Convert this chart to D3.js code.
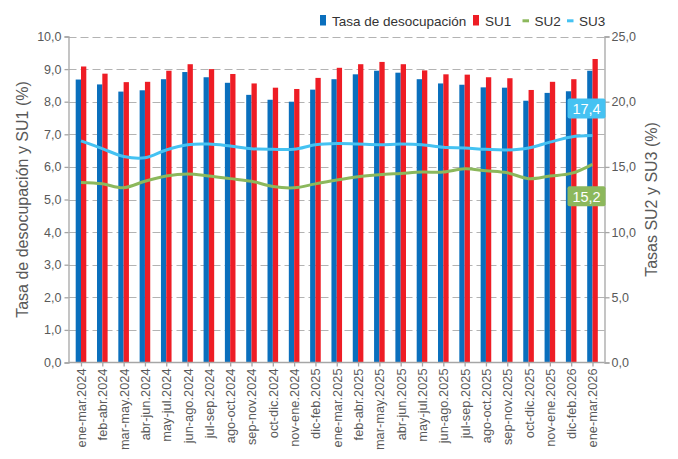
<!DOCTYPE html>
<html>
<head>
<meta charset="utf-8">
<script src="https://cdn.jsdelivr.net/npm/d3@7"></script>
<style>
  body { margin: 0; background: #fff; }
  svg { font-family: "Liberation Sans", Arial, sans-serif; display: block; }
</style>
</head>
<body>
<div id="chart"></div>
<script>
// Datos (trimestres móviles)
const categorias = [
    "ene-mar.2024", "feb-abr.2024", "mar-may.2024", "abr-jun.2024", "may-jul.2024",
    "jun-ago.2024", "jul-sep.2024", "ago-oct.2024", "sep-nov.2024", "oct-dic.2024",
    "nov-ene.2024", "dic-feb.2025", "ene-mar.2025", "feb-abr.2025", "mar-may.2025",
    "abr-jun.2025", "may-jul.2025", "jun-ago.2025", "jul-sep.2025", "ago-oct.2025",
    "sep-nov.2025", "oct-dic.2025", "nov-ene.2025", "dic-feb.2026", "ene-mar.2026"
];
const tasaDesocupacion = [8.68, 8.53, 8.31, 8.35, 8.69, 8.91, 8.75, 8.58, 8.21, 8.06, 8.00, 8.37, 8.69,
    8.84, 8.95, 8.89, 8.69, 8.56, 8.52, 8.44, 8.43, 8.03, 8.27, 8.32, 8.95];
const su1 = [9.08, 8.86, 8.60, 8.61, 8.95, 9.15, 9.00, 8.85, 8.56, 8.43, 8.39, 8.73, 9.04,
    9.15, 9.22, 9.15, 8.96, 8.84, 8.83, 8.75, 8.72, 8.36, 8.61, 8.69, 9.31];
const su2 = [13.8, 13.7, 13.4, 13.9, 14.3, 14.45, 14.3, 14.1, 13.9, 13.5, 13.4, 13.7, 14.0,
    14.25, 14.4, 14.5, 14.6, 14.6, 14.85, 14.7, 14.55, 14.1, 14.3, 14.5, 15.2];
const su3 = [17.0, 16.4, 15.8, 15.7, 16.3, 16.7, 16.75, 16.6, 16.4, 16.35, 16.35, 16.7, 16.8,
    16.75, 16.7, 16.75, 16.7, 16.5, 16.45, 16.35, 16.3, 16.45, 16.9, 17.3, 17.4];
const ticksIzq = [0, 1, 2, 3, 4, 5, 6, 7, 8, 9, 10];
const ticksDer = [0, 5, 10, 15, 20, 25];

const width = 678, height = 459;
const m = { left: 68.5, right: 604.5, top: 36.5, bottom: 362.5 };

const colores = { tasa: "#0a6fbd", su1: "#ee1d25", su2: "#8cb85c", su3: "#45c2f2" };
const gris = "#595959";
const coma = v => d3.format(".1f")(v).replace(".", ",");

const svg = d3.select("#chart").append("svg")
    .attr("width", width).attr("height", height);

const x = d3.scalePoint().domain(categorias).range([81, 592.5]);
const yIzq = d3.scaleLinear().domain([0, 10]).range([m.bottom, m.top]);
const yDer = d3.scaleLinear().domain([0, 25]).range([m.bottom, m.top]);
const barW = 5.3;

// Líneas de grilla
svg.append("g")
    .selectAll("line")
    .data(ticksIzq.filter(d => d > 0))
    .enter().append("line")
    .attr("x1", m.left).attr("x2", m.right)
    .attr("y1", d => Math.round(yIzq(d)) + 0.5).attr("y2", d => Math.round(yIzq(d)) + 0.5)
    .attr("stroke", "#b3b3b3").attr("stroke-width", 1.2)
    .attr("stroke-dasharray", "8,4");

// Barras
const barras = svg.append("g");
barras.selectAll(".tasa")
    .data(tasaDesocupacion)
    .enter().append("rect")
    .attr("x", (d, i) => x(categorias[i]) - barW)
    .attr("y", d => yIzq(d))
    .attr("width", barW)
    .attr("height", d => yIzq(0) - yIzq(d))
    .attr("fill", colores.tasa);
barras.selectAll(".su1")
    .data(su1)
    .enter().append("rect")
    .attr("x", (d, i) => x(categorias[i]))
    .attr("y", d => yIzq(d))
    .attr("width", barW)
    .attr("height", d => yIzq(0) - yIzq(d))
    .attr("fill", colores.su1);

// Ejes
const ejeIzq = svg.append("g")
    .attr("transform", `translate(${m.left},0)`)
    .call(d3.axisLeft(yIzq).tickValues(ticksIzq).tickFormat(coma).tickSize(4).tickPadding(3));
const ejeDer = svg.append("g")
    .attr("transform", `translate(${m.right},0)`)
    .call(d3.axisRight(yDer).tickValues(ticksDer).tickFormat(coma).tickSize(5).tickPadding(2));
const ejeX = svg.append("g")
    .attr("transform", `translate(0,${m.bottom})`)
    .call(d3.axisBottom(x).tickSize(4).tickPadding(4));
ejeX.select(".domain").attr("d", `M${m.left},0H${m.right}`);

[ejeIzq, ejeDer, ejeX].forEach(g => {
    g.selectAll(".domain, .tick line").attr("stroke", "#a6a6a6").attr("stroke-width", 1.3);
    g.selectAll("text").attr("fill", gris).style("font-size", "12.5px");
});
ejeX.selectAll("text")
    .attr("transform", "rotate(-90)")
    .attr("text-anchor", "end")
    .attr("x", -6).attr("y", 0)
    .attr("dy", "0.35em")
    .style("font-size", "12.8px");

// Líneas SU2 y SU3 (eje derecho)
const linea = d3.line()
    .x((d, i) => x(categorias[i]))
    .y(d => yDer(d))
    .curve(d3.curveCatmullRom.alpha(0.5));
svg.append("path").datum(su2)
    .attr("d", linea).attr("fill", "none")
    .attr("stroke", colores.su2).attr("stroke-width", 3);
svg.append("path").datum(su3)
    .attr("d", linea).attr("fill", "none")
    .attr("stroke", colores.su3).attr("stroke-width", 3);

// Etiquetas del último valor
function etiqueta(valor, color, dy) {
    const ultimo = categorias[categorias.length - 1];
    const cx = x(ultimo) - 6, cy = yDer(valor) + dy;
    const g = svg.append("g");
    g.append("rect")
        .attr("x", cx - 19).attr("y", cy - 10)
        .attr("width", 38).attr("height", 20)
        .attr("rx", 2)
        .attr("fill", color);
    g.append("text")
        .attr("x", cx).attr("y", cy)
        .attr("dy", "0.36em")
        .attr("text-anchor", "middle")
        .attr("fill", "#fff")
        .style("font-size", "14.5px")
        .text(coma(valor));
}
etiqueta(su3[su3.length - 1], colores.su3, -27);
etiqueta(su2[su2.length - 1], colores.su2, 32);

// Títulos de ejes
svg.append("text")
    .attr("transform", `translate(28,${(m.top + m.bottom) / 2}) rotate(-90)`)
    .attr("text-anchor", "middle")
    .attr("fill", gris)
    .style("font-size", "16px")
    .text("Tasa de desocupación y SU1 (%)");
svg.append("text")
    .attr("transform", `translate(657,${(m.top + m.bottom) / 2}) rotate(-90)`)
    .attr("text-anchor", "middle")
    .attr("fill", gris)
    .style("font-size", "16px")
    .text("Tasas SU2 y SU3 (%)");

// Leyenda
const leyenda = [
    { nombre: "Tasa de desocupación", color: colores.tasa, tipo: "barra", x: 320 },
    { nombre: "SU1", color: colores.su1, tipo: "barra", x: 473 },
    { nombre: "SU2", color: colores.su2, tipo: "linea", x: 522.5 },
    { nombre: "SU3", color: colores.su3, tipo: "linea", x: 567 }
];
const items = svg.append("g").selectAll("g")
    .data(leyenda)
    .enter().append("g")
    .attr("transform", d => `translate(${d.x},0)`);
items.filter(d => d.tipo === "barra").append("rect")
    .attr("x", 0).attr("y", 15).attr("width", 6).attr("height", 10.5)
    .attr("fill", d => d.color);
items.filter(d => d.tipo === "linea").append("rect")
    .attr("x", 0).attr("y", 19.3).attr("width", 6.5).attr("height", 3)
    .attr("fill", d => d.color);
items.append("text")
    .attr("x", 12).attr("y", 25.5)
    .attr("fill", "#333")
    .style("font-size", "13.5px")
    .text(d => d.nombre);
</script>
</body>
</html>
